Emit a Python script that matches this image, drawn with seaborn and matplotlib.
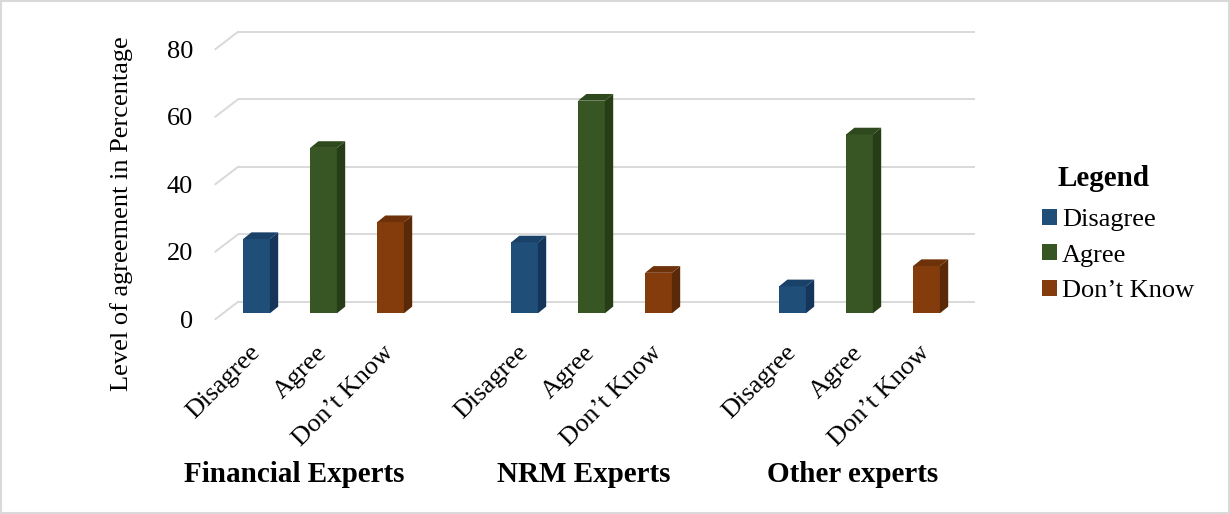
import matplotlib
matplotlib.use("Agg")
import matplotlib.pyplot as plt
import numpy as np
import pandas as pd
import seaborn as sns
from matplotlib import transforms
from matplotlib.patches import Polygon, Rectangle

# ---- data -------------------------------------------------------------
groups = ["Financial Experts", "NRM Experts", "Other experts"]
responses = ["Disagree", "Agree", "Don’t Know"]
disagree = [22, 21, 8]
agree = [49, 63, 53]
dont_know = [27, 12, 14]
y_ticks = [0, 20, 40, 60, 80]

# ---- styling ----------------------------------------------------------
front_colors = ["#1F4E79", "#375623", "#843C0C"]
side_colors = ["#15365A", "#263D17", "#5A2907"]
top_colors = ["#1A4168", "#2E491D", "#6E320A"]
grid_color = "#D9D9D9"

sns.set_theme(style="white")
plt.rcParams["font.family"] = ["Liberation Serif", "DejaVu Serif"]
plt.rcParams["text.color"] = "black"
plt.rcParams["axes.labelcolor"] = "black"
plt.rcParams["xtick.color"] = "black"
plt.rcParams["ytick.color"] = "black"
FS = 19
FS_BOLD = 21

W, H, DPI = 1230, 514, 100
fig = plt.figure(figsize=(W / DPI, H / DPI), dpi=DPI)

# axes geometry in pixels (plane of the bar front faces)
Y_MIN, Y_MAX = -3, 80
X_MIN, X_MAX = -0.5, 10.5
ppy = 3.375            # pixels per percentage point
ppx = 67.0             # pixels per category slot
ax_left = 223.0
ax_w = (X_MAX - X_MIN) * ppx
ax_h = (Y_MAX - Y_MIN) * ppy
ax_bottom = 313.3 + (0 - Y_MIN) * ppy
ax = fig.add_axes([ax_left / W, 1 - ax_bottom / H, ax_w / W, ax_h / H])

rows = []
for g, vals in enumerate(zip(disagree, agree, dont_know)):
    for r, v in enumerate(vals):
        rows.append({"group": groups[g], "response": responses[r],
                     "slot": 4 * g + r, "value": v})
df = pd.DataFrame(rows)

sns.barplot(data=df, x="slot", y="value", hue="response", hue_order=responses,
            palette=front_colors, saturation=1, native_scale=True, dodge=False,
            width=0.4, errorbar=None, legend=False, linewidth=0, ax=ax, zorder=3)

ax.set_xlim(X_MIN, X_MAX)
ax.set_ylim(Y_MIN, Y_MAX)
for s in ax.spines.values():
    s.set_visible(False)

# pseudo-3D offsets (pixels -> data units)
bar_dx, bar_dy = 8.3 / ppx, 6.7 / ppy        # bar depth
wall_dx, wall_dy = 15.2 / ppx, 11.6 / ppy    # back wall
floor_dx, floor_dy = -7.8 / ppx, -6.0 / ppy  # front edge of floor

# back-wall gridlines with the slanted side-wall segment
for v in y_ticks:
    ax.plot([X_MIN + wall_dx, X_MAX + wall_dx], [v + wall_dy] * 2,
            color=grid_color, lw=1.4, clip_on=False, zorder=1,
            solid_capstyle="butt")
    ax.plot([X_MIN + floor_dx, X_MIN + wall_dx], [v + floor_dy, v + wall_dy],
            color=grid_color, lw=1.4, clip_on=False, zorder=1)

# side and top faces of each bar
for cont, sc, tc in zip(ax.containers, side_colors, top_colors):
    for bar in cont:
        x0, w, h = bar.get_x(), bar.get_width(), bar.get_height()
        if np.isnan(h):
            continue
        x1 = x0 + w
        side = Polygon([(x1, 0), (x1, h), (x1 + bar_dx, h + bar_dy), (x1 + bar_dx, bar_dy)],
                       closed=True, facecolor=sc, edgecolor="none", zorder=3)
        top = Polygon([(x0, h), (x1, h), (x1 + bar_dx, h + bar_dy), (x0 + bar_dx, h + bar_dy)],
                      closed=True, facecolor=tc, edgecolor="none", zorder=3)
        ax.add_patch(side)
        ax.add_patch(top)

# category ticks along the front edge of the floor
ax.set_xticks(df["slot"] + floor_dx, labels=df["response"])
ax.tick_params(axis="x", length=0, pad=13, labelsize=FS)
plt.setp(ax.get_xticklabels(), rotation=45, ha="right", va="top",
         rotation_mode="anchor")

ax.set_yticks([v + floor_dy for v in y_ticks], labels=[str(v) for v in y_ticks])
ax.tick_params(axis="y", length=0, pad=21.5, labelsize=FS)
ax.set_xlabel("")
ax.set_ylabel("Level of agreement in Percentage", fontsize=FS)
ax.yaxis.set_label_coords((133 - ax_left) / ax_w, (ax_bottom - 214) / ax_h)

# group labels
group_label_x = [0.57, 4.89, 8.9]
tr = transforms.blended_transform_factory(ax.transData, fig.transFigure)
for gx, name in zip(group_label_x, groups):
    ax.text(gx, 1 - 474 / H, name, transform=tr, ha="center", va="center",
            fontsize=FS_BOLD, fontweight="bold")

# legend
handles = [Rectangle((0, 0), 1, 1, facecolor=c, edgecolor="none") for c in front_colors]
ax.legend(handles, responses, loc="upper left",
          bbox_to_anchor=(1042 / W, 1 - 209 / H), bbox_transform=fig.transFigure,
          frameon=False, fontsize=FS, handlelength=0.55, handleheight=0.55,
          handletextpad=0.2, labelspacing=0.5, borderpad=0, borderaxespad=0)
fig.text(1103 / W, 1 - 178 / H, "Legend", ha="center", va="center",
         fontsize=FS_BOLD, fontweight="bold")

# light frame around the whole chart
fig.patches.append(Rectangle((0.001, 0.002), 0.998, 0.996, transform=fig.transFigure,
                             fill=False, edgecolor=grid_color, lw=1.5))

fig.savefig("out.png", dpi=DPI)
